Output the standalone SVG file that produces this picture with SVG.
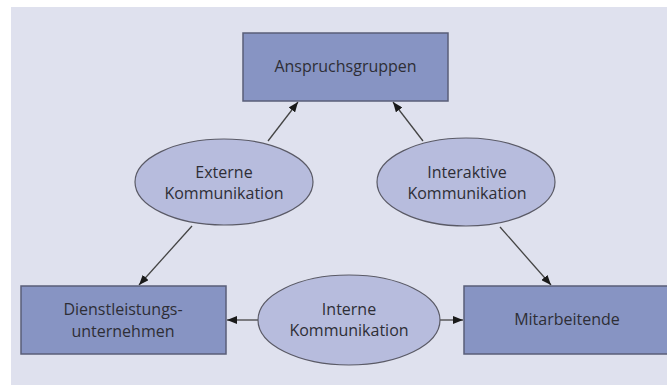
<svg xmlns="http://www.w3.org/2000/svg" width="667" height="385" viewBox="0 0 667 385">
  <defs>
    <marker id="arrow" viewBox="0 0 10 8" refX="10" refY="4" markerWidth="10" markerHeight="8" markerUnits="userSpaceOnUse" orient="auto">
      <path d="M0,0 L10,4 L0,8 Z" fill="#1a1a1a"/>
    </marker>
    <style>
      .box { fill: #8794c3; stroke: #5a5e78; stroke-width: 1.5; }
      .oval { fill: #b7bcdd; stroke: #5a5a66; stroke-width: 1.2; }
      .label { font-family: "Open Sans", "Liberation Sans", sans-serif; font-size: 16px; fill: #2e2e36; text-anchor: middle; }
      .edge { stroke: #444; stroke-width: 1.3; fill: none; marker-end: url(#arrow); }
    </style>
  </defs>

  <!-- panel -->
  <rect x="11" y="7" width="656" height="378" fill="#dfe1ee"/>

  <!-- connectors -->
  <g id="connectors">
    <line class="edge" x1="268" y1="141" x2="298" y2="102"/>
    <line class="edge" x1="423" y1="141" x2="393" y2="102"/>
    <line class="edge" x1="192" y1="226" x2="139" y2="285"/>
    <line class="edge" x1="500" y1="227" x2="551" y2="285"/>
    <line class="edge" x1="258" y1="320" x2="227" y2="320"/>
    <line class="edge" x1="440" y1="320" x2="463" y2="320"/>
  </g>

  <g id="anspruchsgruppen">
    <rect class="box" x="243" y="33" width="205" height="68"/>
    <text class="label" x="345.5" y="72">Anspruchsgruppen</text>
  </g>

  <g id="externe">
    <ellipse class="oval" cx="224" cy="182" rx="89" ry="43"/>
    <text class="label" x="224" y="178">Externe</text>
    <text class="label" x="224" y="199">Kommunikation</text>
  </g>

  <g id="interaktive">
    <ellipse class="oval" cx="466" cy="182" rx="89" ry="44"/>
    <text class="label" x="467" y="178">Interaktive</text>
    <text class="label" x="467" y="199">Kommunikation</text>
  </g>

  <g id="dienstleistung">
    <rect class="box" x="21" y="286" width="205" height="68"/>
    <text class="label" x="123" y="315">Dienstleistungs-</text>
    <text class="label" x="123" y="337">unternehmen</text>
  </g>

  <g id="interne">
    <ellipse class="oval" cx="349" cy="320" rx="91" ry="45"/>
    <text class="label" x="349" y="315">Interne</text>
    <text class="label" x="349" y="336">Kommunikation</text>
  </g>

  <g id="mitarbeitende">
    <rect class="box" x="464" y="286" width="206" height="68"/>
    <text class="label" x="567" y="325">Mitarbeitende</text>
  </g>
</svg>
